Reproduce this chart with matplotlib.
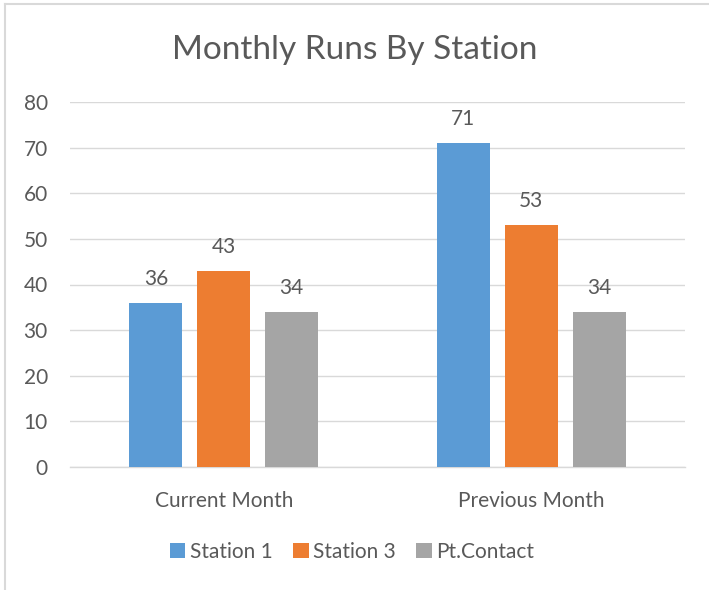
import numpy as np
import matplotlib.pyplot as plt
from matplotlib.lines import Line2D

# datos del grafico
categorias = ["Current Month", "Previous Month"]
series = ["Station 1", "Station 3", "Pt.Contact"]
valores = {
    "Station 1": [36, 71],
    "Station 3": [43, 53],
    "Pt.Contact": [34, 34],
}
colores = ["#5B9BD5", "#ED7D31", "#A5A5A5"]

plt.rcParams['font.family'] = ['Lato', 'DejaVu Sans']
texto = "#595959"

fig = plt.figure(figsize=(7.09, 5.90), dpi=100)
ax = fig.add_axes([70 / 709, 123 / 590, 615 / 709, 365 / 590])

x = np.arange(len(categorias))
ancho = 0.172
paso = 0.221
for i, nombre in enumerate(series):
    pos = x + (i - 1) * paso
    barras = ax.bar(pos, valores[nombre], width=ancho, color=colores[i], label=nombre, zorder=3)
    for b, v in zip(barras, valores[nombre]):
        ax.text(b.get_x() + b.get_width() / 2, v + 3.0, str(v), ha='center', va='bottom',
                fontsize=15, color=texto)

ax.set_xlim(-0.5, 1.5)
ax.set_ylim(0, 80)
ax.set_yticks(range(0, 81, 10))
ax.set_xticks(x)
ax.set_xticklabels(categorias)
ax.tick_params(axis='both', length=0, labelsize=15, labelcolor=texto)
ax.tick_params(axis='x', pad=17)
ax.tick_params(axis='y', pad=16)

ax.grid(axis='y', color='#D9D9D9', linewidth=1, zorder=0)
for lado in ['top', 'right', 'left']:
    ax.spines[lado].set_visible(False)
ax.spines['bottom'].set_color('#D9D9D9')
ax.spines['bottom'].set_linewidth(1)

fig.text(0.5, 1 - 50 / 590, "Monthly Runs By Station", ha='center', va='center',
         fontsize=24, color=texto)

ax.legend(loc='center', bbox_to_anchor=(352 / 709, 1 - 552 / 590), bbox_transform=fig.transFigure,
          ncol=3, frameon=False, fontsize=15, labelcolor=texto, handlelength=0.75,
          handleheight=0.75, handletextpad=0.2, columnspacing=1.0)

# borde del area del grafico (solo arriba e izquierda quedan visibles)
fig.add_artist(Line2D([5 / 709, 5 / 709], [0, 1 - 4 / 590], color='#D9D9D9', linewidth=1.5))
fig.add_artist(Line2D([5 / 709, 1], [1 - 4 / 590, 1 - 4 / 590], color='#D9D9D9', linewidth=1.5))

fig.savefig("out.png", dpi=100)
